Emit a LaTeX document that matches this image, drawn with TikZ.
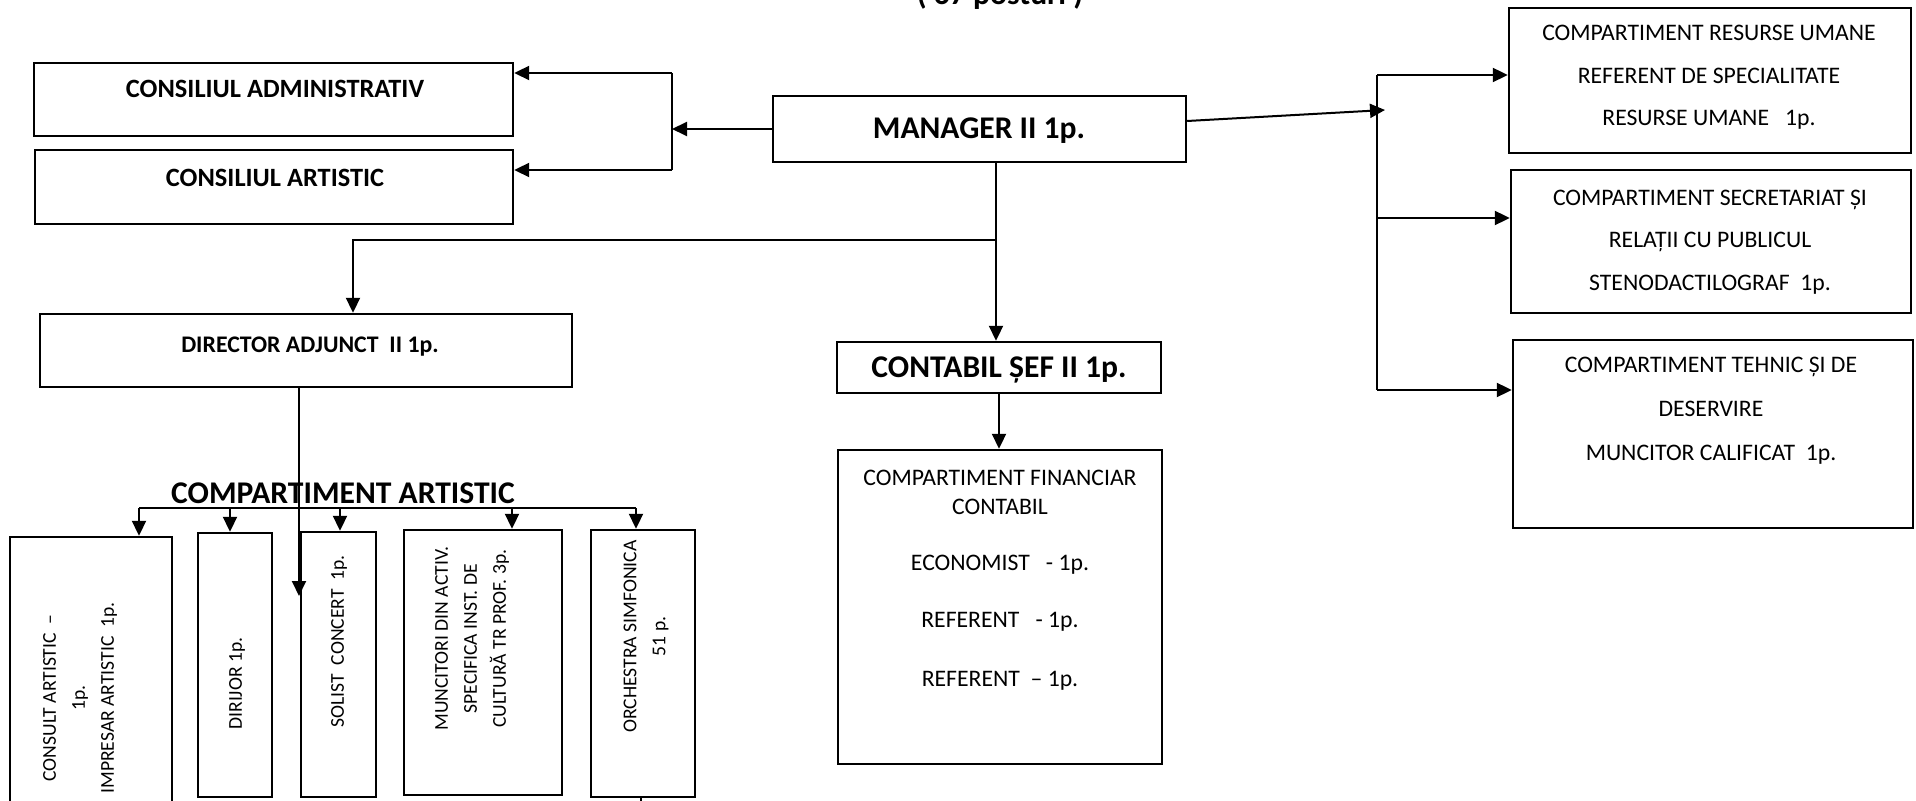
\documentclass[tikz,border=0pt]{standalone}
\usepackage{fontspec}
\setmainfont{Carlito}
\usetikzlibrary{arrows.meta,fit}
\begin{document}
\begin{tikzpicture}[x=0.5pt,y=-0.5pt,
  box/.style={draw, line width=1.2pt, inner sep=0pt},
  ln/.style={line width=1pt},
  arr/.style={line width=1pt, -{Triangle[length=7.5pt,width=7pt]}},
  txt/.style={font=\fontsize{11.85}{14}\selectfont, anchor=base, inner sep=0pt},
  hb/.style={font=\fontsize{15.8}{18}\selectfont\bfseries, anchor=base, inner sep=0pt},
  mb/.style={font=\fontsize{13.2}{16}\selectfont\bfseries, anchor=base, inner sep=0pt},
  sb/.style={font=\fontsize{11.9}{14}\selectfont\bfseries, anchor=base, inner sep=0pt},
  vt/.style={font=\fontsize{9.8}{14.5}\selectfont, rotate=90, anchor=west, align=center, inner sep=0pt}]
\useasboundingbox[fill=white] (0,0) rectangle (1916,801);

% title (cut at the top)
\node[hb] (title) at (1000,5) {( 67 posturi )};

% boxes
\node[box, fit={(34,63)(513,136)}] (adm) {};
\node[box, fit={(35,150)(513,224)}] (art) {};
\node[box, fit={(773,96)(1186,162)}] (man) {};
\node[box, fit={(1509,8)(1911,153)}] (ru) {};
\node[box, fit={(1511,170)(1911,313)}] (sec) {};
\node[box, fit={(1513,340)(1913,528)}] (teh) {};
\node[box, fit={(40,314)(572,387)}] (dir) {};
\node[box, fit={(837,342)(1161,393)}] (cs) {};
\node[box, fit={(838,450)(1162,764)}] (fin) {};
\node[box, fit={(10,537)(172,812)}] (cons) {};
\node[box, fit={(198,533)(272,797)}] (diri) {};
\node[box, fit={(301,532)(376,797)}] (sol) {};
\node[box, fit={(404,530)(562,795)}] (mun) {};
\node[box, fit={(591,530)(695,797)}] (orch) {};

% texts
\node[mb] (tadm) at (275,98) {CONSILIUL ADMINISTRATIV};
\node[mb] (tart) at (275,187) {CONSILIUL ARTISTIC};
\node[hb] (tman) at (979,139) {MANAGER II 1p.};
\node[hb] (tcs) at (999,378) {CONTABIL ȘEF II 1p.};
\node[sb] (tdir) at (310,353) {DIRECTOR ADJUNCT~~II 1p.};
\node[hb] (tca) at (343,504) {COMPARTIMENT ARTISTIC};

\node[txt] (ru1) at (1709,41) {COMPARTIMENT RESURSE UMANE};
\node[txt] (ru2) at (1709,84) {REFERENT DE SPECIALITATE};
\node[txt] (ru3) at (1709,126) {RESURSE UMANE~~~1p.};
\node[txt] (se1) at (1710,206) {COMPARTIMENT SECRETARIAT ȘI};
\node[txt] (se2) at (1710,248) {RELAȚII CU PUBLICUL};
\node[txt] (se3) at (1710,291) {STENODACTILOGRAF~~1p.};
\node[txt] (te1) at (1711,373) {COMPARTIMENT TEHNIC ȘI DE};
\node[txt] (te2) at (1711,417) {DESERVIRE};
\node[txt] (te3) at (1711,461) {MUNCITOR CALIFICAT~~1p.};
\node[txt] (fi1) at (1000,486) {COMPARTIMENT FINANCIAR};
\node[txt] (fi2) at (1000,515) {CONTABIL};
\node[txt] (fi3) at (1000,571) {ECONOMIST~~~- 1p.};
\node[txt] (fi4) at (1000,627) {REFERENT~~~- 1p.};
\node[txt] (fi5) at (1000,686) {REFERENT~~– 1p.};

\node[vt] (tcons) at (80,794) {CONSULT ARTISTIC~~–\\1p.\\IMPRESAR ARTISTIC~~1p.};
\node[vt] (tdiri) at (237,730) {DIRIJOR 1p.};
\node[vt] (tsol) at (339,728) {SOLIST~~CONCERT~~1p.};
\node[vt] (tmun) at (472,731) {MUNCITORI DIN ACTIV.\\SPECIFICA INST. DE\\CULTURĂ TR PROF. 3p.};
\node[vt] (torch) at (646,733) {ORCHESTRA SIMFONICA\\51 p.};

% left bracket (consilii)
\coordinate (bLt) at (672,73);
\coordinate (bLb) at (672,170);
\draw[ln] (bLt) -- (bLb);
\draw[arr] (bLt) -- (bLt -| adm.east);
\draw[arr] (bLb) -- (bLb -| art.east);
\draw[arr] (man.west) -- (man.west -| bLt);

% right bracket (compartimente)
\coordinate (bRt) at (1377,75);
\coordinate (bRm) at (1377,218);
\coordinate (bRb) at (1377,390);
\coordinate (bRin) at (1385,110);
\draw[ln] (bRt) -- (bRb);
\draw[arr] ([yshift=4pt]man.east) -- (bRin);
\draw[arr] (bRt) -- (bRt -| ru.west);
\draw[arr] (bRm) -- (bRm -| sec.west);
\draw[arr] (bRb) -- (bRb -| teh.west);

% manager down
\coordinate (mD) at (996,240);
\coordinate (dA) at (353,240);
\draw[arr] (man.south -| mD) -- (cs.north -| mD);
\draw[arr] (mD) -- (dA) -- (dA |- dir.north);
\draw[arr] (cs.south) -- (fin.north -| cs.south);

% director down
\coordinate (dD) at (299,596);
\draw[arr] (dir.south -| dD) -- (dD);

% artistic bus
\coordinate (busL) at (139,508);
\coordinate (bus2) at (230,508);
\coordinate (bus3) at (340,508);
\coordinate (bus4) at (512,508);
\coordinate (busR) at (636,508);
\draw[ln] (busL) -- (busR);
\draw[arr] (busL) -- (busL |- cons.north);
\draw[arr] (bus2) -- (bus2 |- diri.north);
\draw[arr] (bus3) -- (bus3 |- sol.north);
\draw[arr] (bus4) -- (bus4 |- mun.north);
\draw[arr] (busR) -- (busR |- orch.north);

% line below orchestra
\coordinate (oE) at (641,812);
\draw[ln] (orch.south -| oE) -- (oE);
\end{tikzpicture}
\end{document}
